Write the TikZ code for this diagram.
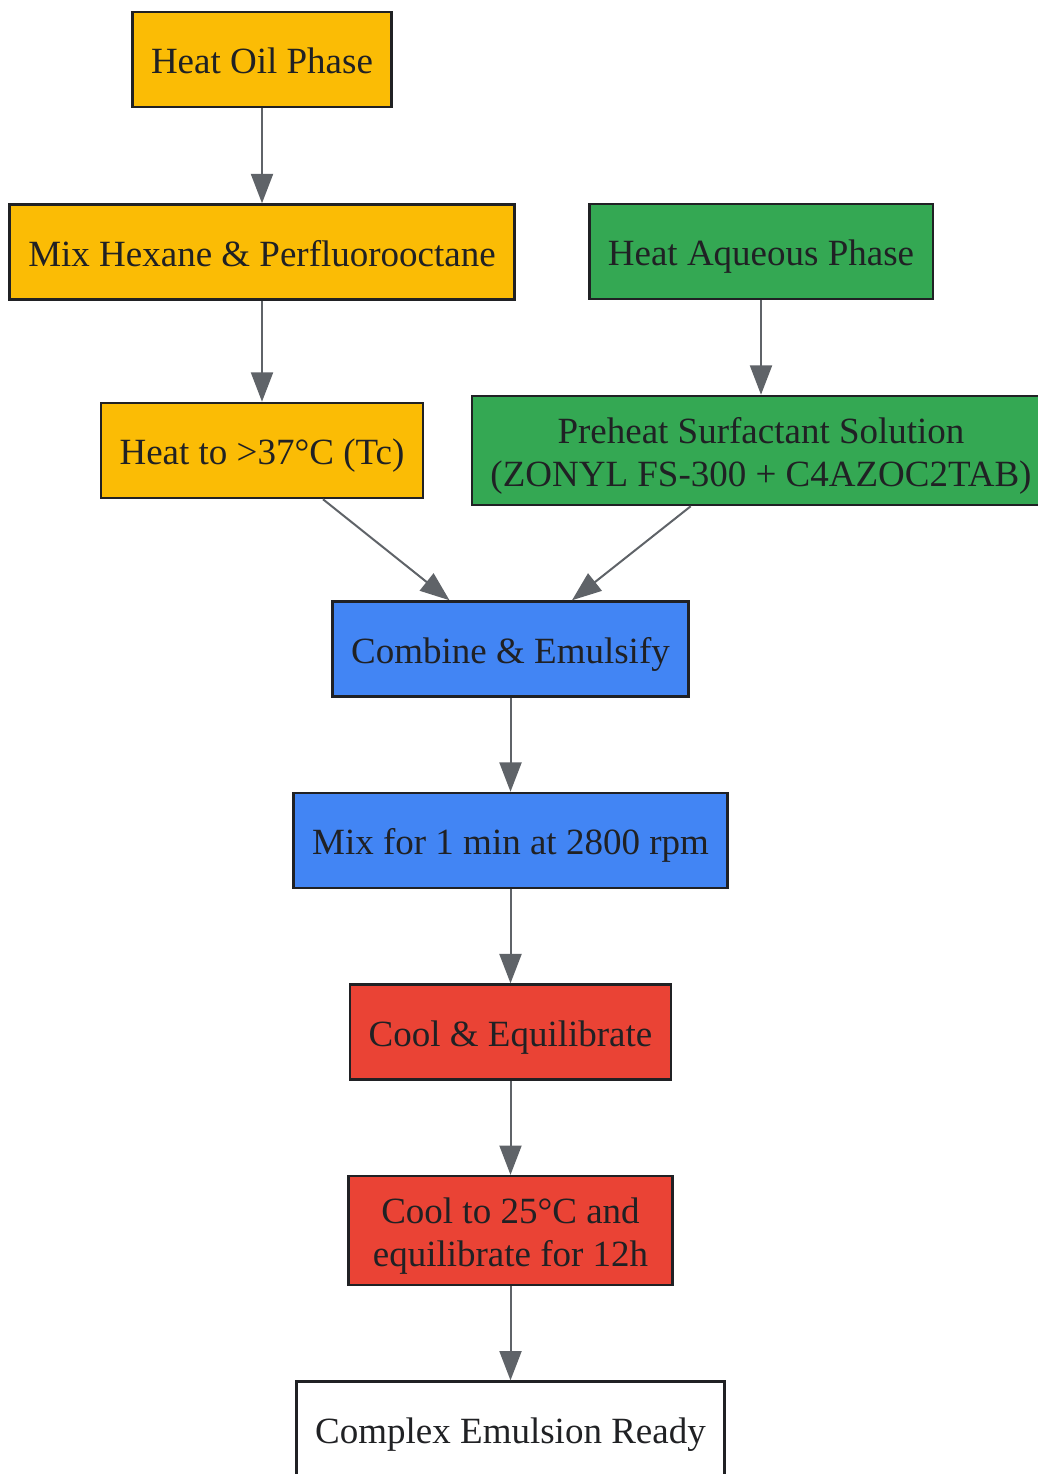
\documentclass[tikz,border=0pt]{standalone}
\usepackage{fontspec}
\setmainfont{Liberation Serif}
\usepackage{tikz}
\usetikzlibrary{arrows.meta, positioning}
\definecolor{colorOil}{HTML}{FBBC05}
\definecolor{colorAqueous}{HTML}{34A853}
\definecolor{colorMix}{HTML}{4285F4}
\definecolor{colorCool}{HTML}{EA4335}
\definecolor{colorEdge}{HTML}{5F6368}
\definecolor{colorBorder}{HTML}{202124}
\tikzset{stepbox/.style={draw=colorBorder, line width=1.9pt, rectangle, minimum height=71.25pt, inner xsep=14pt, align=center, text=colorBorder, text height=22pt, text depth=1pt, font=\fontsize{27.75}{32.25}\selectfont},
twolines/.style={minimum height=81.75pt, text height=54.25pt},
oil/.style={stepbox, fill=colorOil},
aqueous/.style={stepbox, fill=colorAqueous},
mix/.style={stepbox, fill=colorMix},
cool/.style={stepbox, fill=colorCool},
flow/.style={->, draw=colorEdge, line width=1.5pt}}

\begin{document}
\begin{tikzpicture}[x=0.75pt, y=-0.75pt, >={Triangle[length=22pt, width=16.5pt]}, node distance=70.5pt]
\useasboundingbox (0,0) rectangle (1038,1474);
\clip (0,0) rectangle (1038,1474);
\node[oil] (oil1) at (262,59.5) {Heat Oil Phase};
\node[oil, below=71.25pt of oil1] (oil2) {Mix Hexane \& Perfluorooctane};
\node[oil] (oil3) at (262,450.5) {Heat to >37°C (Tc)};
\node[aqueous] (aq1) at (761,251.5) {Heat Aqueous Phase};
\node[aqueous, twolines] (aq2) at (761,450.5) {Preheat Surfactant Solution\\(ZONYL FS-300 + C4AZOC2TAB)};
\node[mix] (mix1) at (510.5,649) {Combine \& Emulsify};
\node[mix, below=of mix1] (mix2) {Mix for 1 min at 2800 rpm};
\node[cool, below=of mix2] (cool1) {Cool \& Equilibrate};
\node[cool, twolines, below=of cool1, minimum width=243pt] (cool2) {Cool to 25°C and\\equilibrate for 12h};
\node[stepbox, fill=white, below=of cool2] (ready) {Complex Emulsion Ready};
\draw[flow] (oil1) -- (oil2);
\draw[flow] (oil2) -- (oil3);
\draw[flow] (aq1) -- (aq2);
\draw[flow] (oil3) -- (mix1);
\draw[flow] (aq2) -- (mix1);
\draw[flow] (mix1) -- (mix2);
\draw[flow] (mix2) -- (cool1);
\draw[flow] (cool1) -- (cool2);
\draw[flow] (cool2) -- (ready);
\end{tikzpicture}
\end{document}
